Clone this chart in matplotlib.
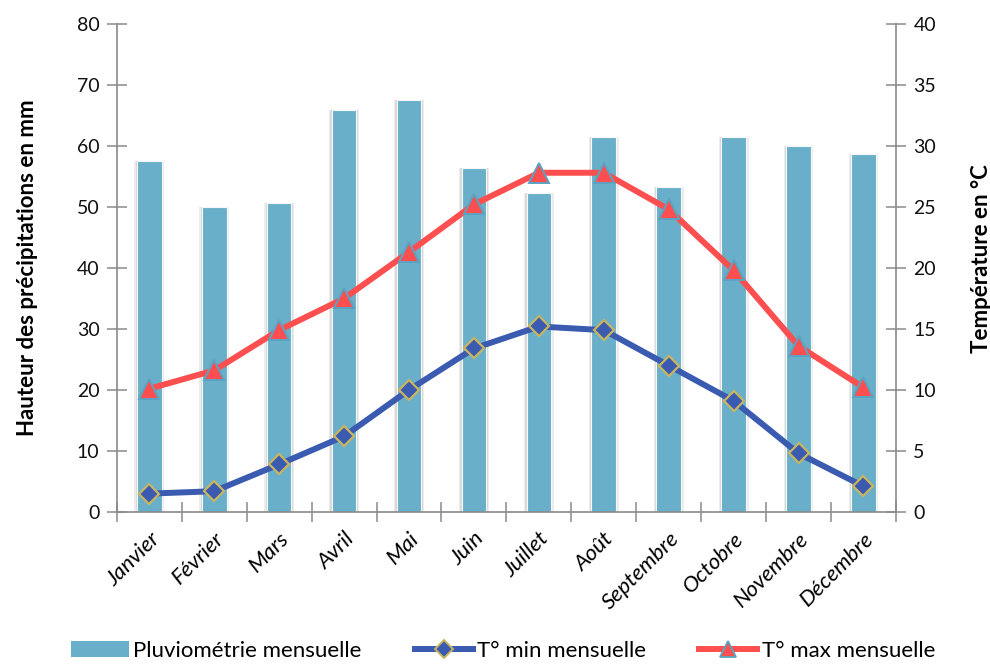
import matplotlib.pyplot as plt
import numpy as np
from matplotlib.patches import Patch
from matplotlib.lines import Line2D

plt.rcParams['font.family'] = ['Lato', 'DejaVu Sans']

MONTHS = ["Janvier", "Février", "Mars", "Avril", "Mai", "Juin", "Juillet",
          "Août", "Septembre", "Octobre", "Novembre", "Décembre"]
RAIN = [57.6, 50.0, 50.7, 65.9, 67.5, 56.3, 52.2, 61.4, 53.2, 61.4, 60.0, 58.7]
TMIN = [1.5, 1.7, 3.9, 6.2, 10.0, 13.4, 15.2, 14.9, 12.0, 9.1, 4.8, 2.1]
TMAX = [10.1, 11.6, 14.9, 17.5, 21.3, 25.2, 27.8, 27.8, 24.8, 19.8, 13.6, 10.2]

BAR_COLOR = "#6aafc9"
MIN_COLOR = "#3a5bb0"
MIN_EDGE = "#c9b560"
MAX_COLOR = "#fd4f4f"
MAX_EDGE = "#5aa3c2"
AXIS_COLOR = "#8a8a8a"

fig = plt.figure(figsize=(9.9, 6.64), dpi=100)
ax = fig.add_axes([0.118, 0.229, 0.787, 0.735])
ax2 = ax.twinx()

x = np.arange(len(MONTHS))

# soft shadow behind the bars
ax.bar(x, RAIN, width=0.46, color="#ececec", zorder=1)
ax.bar(x, RAIN, width=0.42, color="#dadada", zorder=1)
ax.bar(x, RAIN, width=0.38, color=BAR_COLOR, edgecolor="#f4f8fa",
       linewidth=0.8, zorder=2)

ax.set_xlim(-0.5, len(MONTHS) - 0.5)
ax.set_ylim(0, 80)
ax.set_yticks(np.arange(0, 81, 10))
ax2.set_ylim(0, 40)
ax2.set_yticks(np.arange(0, 41, 5))

ax2.plot(x, TMIN, color=MIN_COLOR, linewidth=4.3, solid_joinstyle='round',
         solid_capstyle='round', marker='D', markersize=10,
         markerfacecolor=MIN_COLOR, markeredgecolor=MIN_EDGE,
         markeredgewidth=1.6, zorder=4)
ax2.plot(x, TMAX, color=MAX_COLOR, linewidth=4.3, solid_joinstyle='round',
         solid_capstyle='round', marker='^', markersize=14,
         markerfacecolor=MAX_COLOR, markeredgecolor=MAX_EDGE,
         markeredgewidth=1.4, zorder=4)

# spines
for a in (ax, ax2):
    a.spines['top'].set_visible(False)
    for s in a.spines.values():
        s.set_color(AXIS_COLOR)
        s.set_linewidth(1.2)
ax.spines['right'].set_visible(False)
ax2.spines['left'].set_visible(False)
ax2.spines['bottom'].set_visible(False)

ax.tick_params(axis='y', direction='inout', length=15, width=1.1,
               color=AXIS_COLOR, labelsize=14, pad=5, labelcolor="#111111")
ax2.tick_params(axis='y', direction='inout', length=15, width=1.1,
                color=AXIS_COLOR, labelsize=14, pad=5, labelcolor="#111111")

ax.set_xticks(x)
ax.set_xticks(np.arange(-0.5, len(MONTHS), 1), minor=True)
ax.set_xticklabels(MONTHS, rotation=45, ha='right', va='top',
                   rotation_mode='anchor', fontstyle='italic', fontsize=16)
ax.tick_params(axis='x', which='major', length=0, pad=12)
ax.tick_params(axis='x', which='minor', direction='inout', length=15,
               width=1.1, color=AXIS_COLOR)

ax.set_ylabel("Hauteur des précipitations en mm", fontsize=16,
              fontweight='bold')
ax.yaxis.set_label_coords(-0.101, 0.5)
ax2.set_ylabel("Température en °C", fontsize=16, fontweight='bold')
ax2.yaxis.set_label_coords(1.096, 0.52)

handles = [Patch(facecolor=BAR_COLOR, edgecolor='none'),
           Line2D([], [], color=MIN_COLOR, linewidth=4.3, marker='D',
                  markersize=9, markerfacecolor=MIN_COLOR,
                  markeredgecolor=MIN_EDGE, markeredgewidth=1.4),
           Line2D([], [], color=MAX_COLOR, linewidth=4.3, marker='^',
                  markersize=12, markerfacecolor=MAX_COLOR,
                  markeredgecolor=MAX_EDGE, markeredgewidth=1.3)]
fig.legend(handles, ["Pluviométrie mensuelle", "T° min mensuelle",
                     "T° max mensuelle"],
           loc='lower center', bbox_to_anchor=(0.508, -0.025), ncol=3,
           frameon=False, fontsize=16, handlelength=2.6, handletextpad=0.2,
           columnspacing=2.4, handleheight=0.7)

fig.savefig("out.png", dpi=100)
